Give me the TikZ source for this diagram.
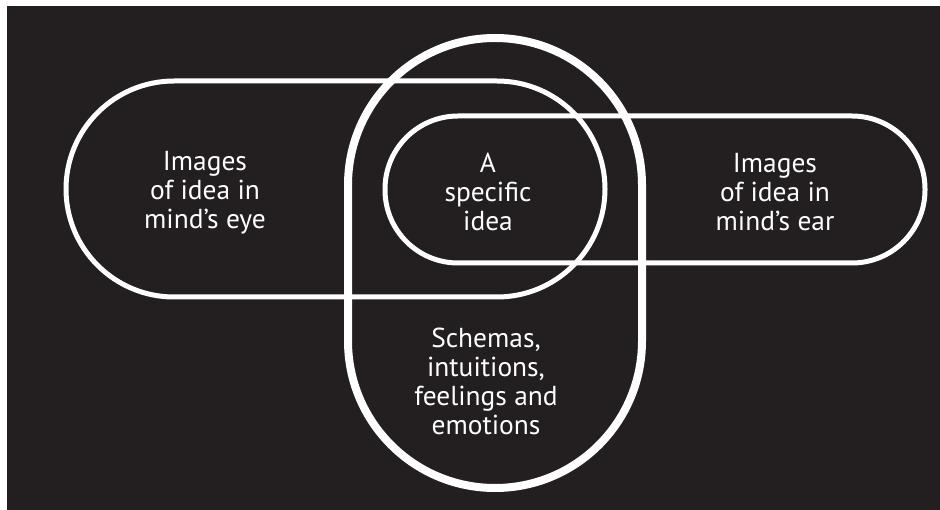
\documentclass[tikz,border=0pt]{standalone}
\usepackage{fontspec}
\setmainfont{PT Sans}
\usepackage{tikz}
\definecolor{nightblack}{RGB}{35, 31, 32}
\tikzset{
  loopline/.style={draw=white, line width=5*0.711pt},
  bigloop/.style={draw=white, line width=8*0.711pt},
  idealabel/.style={text=white, align=center, font=\fontsize{19.5}{20.6}\selectfont}
}

\begin{document}
\begin{tikzpicture}[x=0.025cm, y=-0.025cm]
            \fill[white]                                   (0,0) rectangle (940,510);
            \fill[nightblack]                              (7,6) rectangle (940,510);
            % mind's eye / mind's ear / schemas
            \draw[loopline, rounded corners=2.7cm]         (66,81) rectangle (605,297);
            \draw[loopline, rounded corners=1.825cm]       (385,116) rectangle (925,263);
            \draw[bigloop,  rounded corners=3.675cm]       (348,38) rectangle (642,488);
            \node[idealabel] (eye)     at (205,193) {Images\\of idea in\\mind’s eye};
            \node[idealabel] (idea)    at (488,192) {A\\specific\\idea};
            \node[idealabel] (ear)     at (775,192) {Images\\of idea in\\mind’s ear};
            \node[idealabel] (schemas) at (486,381) {Schemas,\\intuitions,\\feelings and\\emotions};
        \end{tikzpicture}
\end{document}
